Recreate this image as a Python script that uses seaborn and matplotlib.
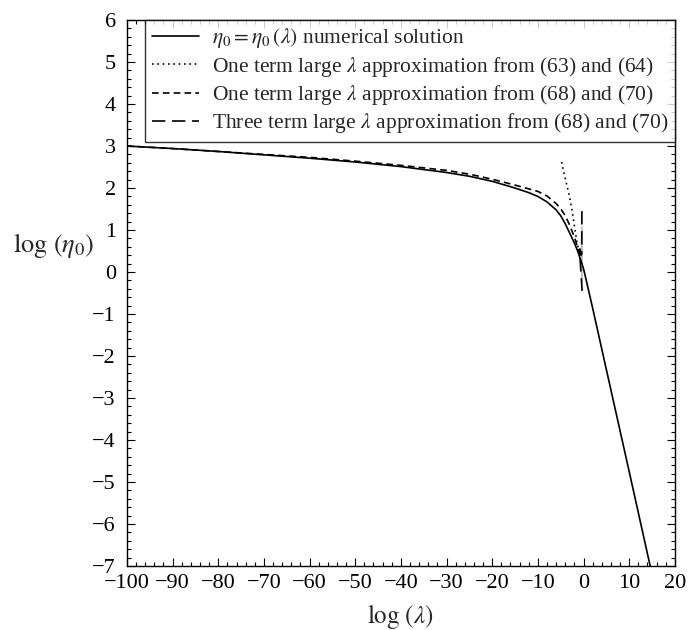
import numpy as np
import pandas as pd
import matplotlib
matplotlib.use("Agg")
import matplotlib.pyplot as plt
from matplotlib.ticker import MultipleLocator
import seaborn as sns

# ---- data ----
num_x = [-100, -90, -80, -70, -60, -50, -40, -30, -25, -20, -15, -12, -10, -8, -6, -5, -4, -3, -2, -1.5, -1, -0.5, 0, 0.5, 2, 5, 10, 14.6]
num_y = [3.00, 2.94, 2.87, 2.79, 2.71, 2.62, 2.51, 2.37, 2.28, 2.16, 2.00, 1.89, 1.80, 1.67, 1.48, 1.34, 1.15, 0.92, 0.69, 0.56, 0.41, 0.25, 0.08, -0.15, -0.86, -2.32, -4.75, -7.00]

one63_x = [-4.8, -4.3, -3.7, -3.2, -2.6, -2.1, -1.5, -1.0]
one63_y = [2.62, 2.36, 2.09, 1.86, 1.53, 1.18, 0.74, 0.50]

one68_x = [-100, -90, -80, -70, -60, -50, -40, -30, -25, -20, -15, -10, -8, -6, -5, -4, -3, -2, -1.5, -1, -0.6]
one68_y = [3.00, 2.94, 2.87, 2.80, 2.73, 2.64, 2.54, 2.42, 2.33, 2.21, 2.07, 1.92, 1.81, 1.63, 1.51, 1.34, 1.11, 0.83, 0.66, 0.48, 0.33]

three_x = [-0.35, -0.40, -0.55, -0.80, -0.75, -0.55, -0.40, -0.30]
three_y = [1.45, 1.10, 0.80, 0.55, 0.30, 0.00, -0.25, -0.45]

labels = [r"$\eta_0 = \eta_0\,(\lambda)$ numerical solution",
          r"One term large $\lambda$ approximation from (63) and (64)",
          r"One term large $\lambda$ approximation from (68) and (70)",
          r"Three term large $\lambda$ approximation from (68) and (70)"]

x_ticks = list(range(-100, 21, 10))
y_ticks = list(range(-7, 7))

# ---- style ----
sns.set_theme(style="ticks")
plt.rcParams["font.family"] = ["Liberation Serif", "DejaVu Serif"]
plt.rcParams["mathtext.fontset"] = "stix"
plt.rcParams["axes.unicode_minus"] = True

fig = plt.figure(figsize=(6.9, 6.3), dpi=100)
ax = fig.add_axes([0.184, 0.1016, 0.794, 0.8666])

lw = 1.2
sns.lineplot(x=num_x, y=num_y, ax=ax, color="black", lw=lw, sort=False,
             label=labels[0])
sns.lineplot(x=one63_x, y=one63_y, ax=ax, color="black", lw=lw, sort=False,
             linestyle=(0, (1, 2.2)), label=labels[1])
sns.lineplot(x=one68_x, y=one68_y, ax=ax, color="black", lw=lw, sort=False,
             linestyle=(0, (4, 2.5)), label=labels[2])
sns.lineplot(x=three_x, y=three_y, ax=ax, color="black", lw=lw, sort=False,
             linestyle=(0, (8, 4)), label=labels[3])

ax.set_xlim(-100, 20)
ax.set_ylim(-7, 6)
ax.set_xticks(x_ticks)
ax.set_yticks(y_ticks)
ax.xaxis.set_minor_locator(MultipleLocator(2))
ax.yaxis.set_minor_locator(MultipleLocator(0.2))
ax.tick_params(which="both", direction="in", top=True, right=True,
               colors="black", labelsize=16, width=0.8)
ax.tick_params(which="major", length=6)
ax.tick_params(which="minor", length=3)
ax.tick_params(axis="x", pad=6)
ax.tick_params(axis="y", pad=8)
for s in ax.spines.values():
    s.set_color("black")
    s.set_linewidth(1.0)

ax.set_xlabel(r"$\log\,(\lambda)$", fontsize=18, labelpad=6)
ax.set_ylabel("")
fig.text(13 / 690, 1 - 246 / 630, r"$\log\,(\eta_0)$", fontsize=19,
         va="center", ha="left")

leg = ax.legend(loc="upper right", borderaxespad=0.0, fontsize=15.5,
                frameon=True, fancybox=False, handlelength=2.2,
                handletextpad=0.6, labelspacing=0.2, borderpad=0.3)
leg.get_frame().set_edgecolor("black")
leg.get_frame().set_linewidth(1.0)

fig.savefig("out.png", dpi=100, facecolor="white")
